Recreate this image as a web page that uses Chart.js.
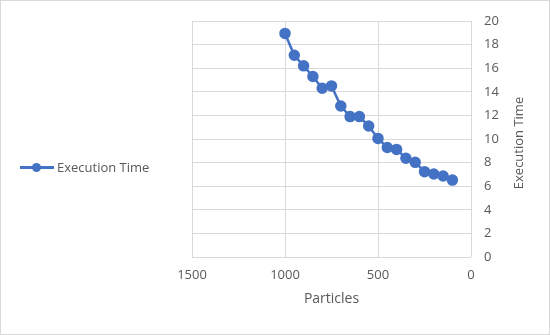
<!DOCTYPE html>
<html lang="en">

<head>
    <meta charset="UTF-8">
    <title>Execution Time</title>
    <script src="https://cdn.jsdelivr.net/npm/chart.js"></script>
    <style>
        body { margin: 0; background: #fff; font-family: "Open Sans", sans-serif; color: #595959; }
        #wrap { position: relative; width: 550px; height: 335px; }
        #frame { position: absolute; left: 0; top: 0; width: 550px; height: 335px; box-sizing: border-box; border: 1px solid #d9d9d9; pointer-events: none; }
        #legend { position: absolute; left: 20px; top: 158px; height: 18px; display: flex; align-items: center; font-size: 13px; }
        #legend .mark { position: relative; width: 34px; height: 18px; margin-right: 3px; }
        #legend .mark .ln { position: absolute; left: 0; right: 0; top: 8px; height: 3px; background: #4472C4; }
        #legend .mark .dot { position: absolute; left: 12px; top: 5px; width: 9px; height: 9px; border-radius: 50%; background: #4472C4; }
        #ytitle { position: absolute; left: 518px; top: 143px; font-size: 13px; white-space: nowrap; transform: translate(-50%, -50%) rotate(-90deg); }
    </style>
</head>

<body>
    <div id="wrap">
        <canvas id="lineChart" width="550" height="335"></canvas>
        <div id="legend"><div class="mark"><div class="ln"></div><div class="dot"></div></div><span>Execution Time</span></div>
        <div id="ytitle">Execution Time</div>
        <div id="frame"></div>
    </div>
</body>
<script>
    const particles = [1000, 950, 900, 850, 800, 750, 700, 650, 600, 550, 500, 450, 400, 350, 300, 250, 200, 150, 100];
    const execTime = [18.95, 17.1, 16.2, 15.3, 14.3, 14.5, 12.8, 11.9, 11.9, 11.1, 10.05, 9.28, 9.12, 8.37, 8.02, 7.23, 7.03, 6.86, 6.52];
    const xTicks = [0, 500, 1000, 1500];
    const yTicks = [0, 2, 4, 6, 8, 10, 12, 14, 16, 18, 20];

    const blue = '#4472C4';
    const gridColor = '#d9d9d9';
    const textColor = '#595959';
    const tickFont = { family: 'Open Sans', size: 13 };

    const points = particles.map((p, i) => ({ x: p, y: execTime[i] }));

    const config = {
        type: 'line',
        data: {
            datasets: [{
                label: 'Execution Time',
                data: points,
                borderColor: blue,
                backgroundColor: blue,
                borderWidth: 2.5,
                pointRadius: 4.5,
                pointHoverRadius: 4.5,
                tension: 0,
            }],
        },
        options: {
            responsive: false,
            animation: false,
            layout: { padding: { left: 192, top: 21, right: 0, bottom: 0 } },
            plugins: { legend: { display: false }, tooltip: { enabled: false } },
            scales: {
                x: {
                    type: 'linear',
                    reverse: true,
                    min: xTicks[0],
                    max: xTicks[xTicks.length - 1],
                    afterBuildTicks: (s) => { s.ticks = xTicks.map(v => ({ value: v })); },
                    afterFit: (s) => { s.height = 78; },
                    grid: { color: gridColor, drawTicks: false },
                    border: { display: false },
                    ticks: { color: textColor, font: tickFont, padding: 10, maxRotation: 0, callback: (v) => String(v) },
                    title: { display: true, text: 'Particles', color: textColor, font: { family: 'Open Sans', size: 14 }, padding: { top: 0, bottom: 28 } },
                },
                y: {
                    position: 'right',
                    min: yTicks[0],
                    max: yTicks[yTicks.length - 1],
                    afterBuildTicks: (s) => { s.ticks = yTicks.map(v => ({ value: v })); },
                    afterFit: (s) => { s.width = 79; },
                    grid: { color: gridColor, drawTicks: false },
                    border: { display: false },
                    ticks: { color: textColor, font: tickFont, padding: 13 },
                },
            },
        },
    };

    const chart = new Chart(document.getElementById('lineChart'), config);
</script>

</html>
